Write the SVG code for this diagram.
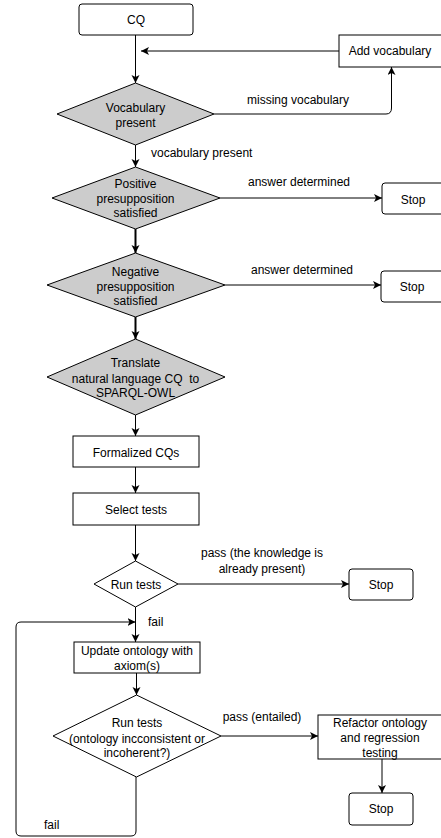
<svg xmlns="http://www.w3.org/2000/svg" width="441" height="838" viewBox="0 0 441 838">
<style>
text{font-family:"Liberation Sans",Arial,sans-serif;font-size:12px;fill:#000;text-anchor:middle;dominant-baseline:central}
.box{fill:#fff;stroke:#000;stroke-width:1}
.dg{fill:#ccc;stroke:#000;stroke-width:1}
.dw{fill:#fff;stroke:#000;stroke-width:1}
.e{fill:none;stroke:#000;stroke-width:1;marker-end:url(#ah)}
.e2{fill:none;stroke:#000;stroke-width:2;marker-end:url(#ah2)}
.l{text-anchor:start}
</style>
<defs>
<marker id="ah" markerWidth="10" markerHeight="10" refX="8" refY="4" orient="auto" markerUnits="userSpaceOnUse">
<path d="M0,0 L8,4 L0,8 L2,4 Z" fill="#000"/>
</marker>
<marker id="ah2" markerWidth="10" markerHeight="10" refX="8" refY="4" orient="auto" markerUnits="userSpaceOnUse">
<path d="M0,0 L8,4 L0,8 L2,4 Z" fill="#000"/>
</marker>
</defs>
<rect width="441" height="838" fill="#fff"/>
<g id="connectors">
<path class="e" d="M135.5,35 V83"/>
<path class="e" d="M339,51 H141"/>
<path class="e" d="M214,114 H386 Q391.5,114 391.5,108 V67"/>
<path class="e" d="M135.5,145 V167"/>
<path class="e" d="M220,198 H382"/>
<path class="e2" d="M135.5,229 V253"/>
<path class="e" d="M225,285 H381"/>
<path class="e2" d="M135.5,317 V339"/>
<path class="e" d="M135.5,415 V436"/>
<path class="e" d="M135.5,467 V493"/>
<path class="e" d="M135.5,525 V561"/>
<path class="e" d="M178,584 H349"/>
<path class="e" d="M135.5,607 V642"/>
<path class="e" d="M136,777 V831 Q136,836 131,836 H21 Q16,836 16,831 V627 Q16,622 21,622 H135.5"/>
<path class="e" d="M136.5,673 V695"/>
<path class="e" d="M221,736 H318"/>
<path class="e" d="M382,759 V793"/>
<text x="298" y="100">missing vocabulary</text>
<text class="l" x="151" y="153">vocabulary present</text>
<text x="299" y="182">answer determined</text>
<text x="302" y="270">answer determined</text>
<text x="262" y="553">pass (the knowledge is</text>
<text x="262" y="569">already present)</text>
<text class="l" x="148" y="622">fail</text>
<text x="262" y="717">pass (entailed)</text>
<text class="l" x="44" y="825">fail</text>
</g>
<g id="cq"><rect class="box" x="79" y="4" width="114" height="31" rx="3"/><text x="136" y="20">CQ</text></g>
<g id="add-vocabulary"><rect class="box" x="339" y="35" width="103" height="32"/><text x="390" y="51">Add vocabulary</text></g>
<g id="vocab-present"><polygon class="dg" points="135.5,83 214,114 135.5,145 57,114"/><text x="135.5" y="108">Vocabulary</text><text x="135.5" y="123">present</text></g>
<g id="positive"><polygon class="dg" points="135.5,167 220,198 135.5,229 52,198"/><text x="135.5" y="184">Positive</text><text x="135.5" y="199">presupposition</text><text x="135.5" y="213">satisfied</text></g>
<g id="stop1"><rect class="box" x="382" y="183" width="64" height="31" rx="3"/><text x="413" y="200">Stop</text></g>
<g id="negative"><polygon class="dg" points="135.5,253 225,285 135.5,317 47,285"/><text x="135.5" y="272">Negative</text><text x="135.5" y="287">presupposition</text><text x="135.5" y="301">satisfied</text></g>
<g id="stop2"><rect class="box" x="381" y="271" width="64" height="31" rx="3"/><text x="412" y="287">Stop</text></g>
<g id="translate"><polygon class="dg" points="135.5,339 225,377 135.5,415 47,377"/><text x="135.5" y="363">Translate</text><text x="135.5" y="379" xml:space="preserve">natural language CQ  to</text><text x="135.5" y="393">SPARQL-OWL</text></g>
<g id="formalized"><rect class="box" x="73" y="436" width="126" height="31"/><text x="136" y="453">Formalized CQs</text></g>
<g id="select"><rect class="box" x="73" y="493" width="126" height="32"/><text x="136" y="510">Select tests</text></g>
<g id="run1"><polygon class="dw" points="135.5,561 178,584 135.5,607 94,584"/><text x="136" y="585">Run tests</text></g>
<g id="stop3"><rect class="box" x="349" y="569" width="64" height="31" rx="3"/><text x="381" y="585">Stop</text></g>
<g id="update"><rect class="box" x="74" y="642" width="126" height="31"/><text x="137" y="651">Update ontology with</text><text x="137" y="666">axiom(s)</text></g>
<g id="run2"><polygon class="dw" points="136.5,695 221,736 136.5,777 53,736"/><text x="137" y="723">Run tests</text><text x="137" y="739">(ontology incconsistent or</text><text x="137" y="753">incoherent?)</text></g>
<g id="refactor"><rect class="box" x="318" y="715" width="124" height="44"/><text x="380" y="723">Refactor ontology</text><text x="380" y="738">and regression</text><text x="380" y="753">testing</text></g>
<g id="stop4"><rect class="box" x="349" y="793" width="64" height="32" rx="3"/><text x="381" y="809">Stop</text></g>
</svg>
